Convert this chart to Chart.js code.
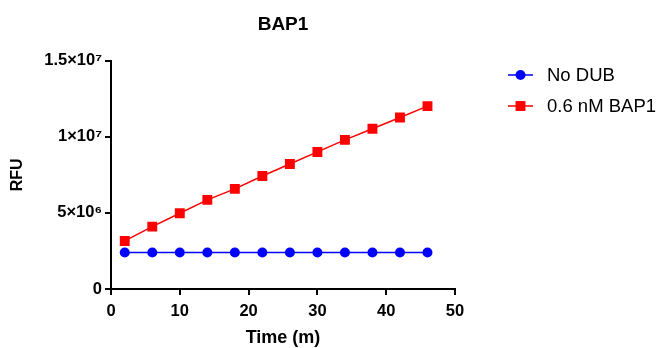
<!DOCTYPE html>
<html>
<head>
<meta charset="utf-8">
<script src="https://cdn.jsdelivr.net/npm/chart.js@4"></script>
<style>
  html, body { margin: 0; padding: 0; background: #fff; }
  canvas { display: block; }
</style>
</head>
<body>
<canvas id="bapChart" width="660" height="348"></canvas>
<script>
// time points (minutes)
const times = [2, 6, 10, 14, 18, 22, 26, 30, 34, 38, 42, 46];
// RFU readings
const noDub = [2.4e6, 2.4e6, 2.4e6, 2.4e6, 2.4e6, 2.4e6, 2.4e6, 2.4e6, 2.4e6, 2.4e6, 2.4e6, 2.4e6];
const bap1 = [3.16e6, 4.1e6, 4.98e6, 5.86e6, 6.58e6, 7.43e6, 8.22e6, 9.01e6, 9.8e6, 10.53e6, 11.27e6, 12.02e6];
const seriesNames = ['No DUB', '0.6 nM BAP1'];
const yTickValues = [0, 5e6, 1e7, 1.5e7];
const yTickLabels = ['0', '5×10⁶', '1×10⁷', '1.5×10⁷'];
const xTickValues = [0, 10, 20, 30, 40, 50];

const fontFamily = '"Liberation Sans", Arial, sans-serif';

// legend drawn as line + marker + label, like the original
const sideLegend = {
    id: 'sideLegend',
    afterDraw(chart) {
        const ctx = chart.ctx;
        const x0 = 508, x1 = 533, textX = 547;
        const rows = [75, 106];
        chart.data.datasets.forEach((ds, i) => {
            const y = rows[i];
            const cx = (x0 + x1) / 2;
            ctx.save();
            ctx.strokeStyle = ds.borderColor;
            ctx.lineWidth = 1.5;
            ctx.beginPath();
            ctx.moveTo(x0, y);
            ctx.lineTo(x1, y);
            ctx.stroke();
            ctx.fillStyle = ds.backgroundColor;
            ctx.beginPath();
            if (ds.pointStyle === 'circle') {
                ctx.arc(cx, y, ds.pointRadius, 0, Math.PI * 2);
            } else {
                const s = ds.pointRadius * Math.SQRT1_2;
                ctx.rect(cx - s, y - s, 2 * s, 2 * s);
            }
            ctx.fill();
            ctx.fillStyle = '#000';
            ctx.font = '18.5px ' + fontFamily;
            ctx.textBaseline = 'middle';
            ctx.fillText(seriesNames[i], textX, y + 1);
            ctx.restore();
        });
    }
};

const ctx = document.getElementById('bapChart').getContext('2d');
new Chart(ctx, {
    type: 'line',
    data: {
        datasets: [
            {
                label: seriesNames[0],
                data: times.map((t, i) => ({ x: t, y: noDub[i] })),
                borderColor: '#0000ff',
                backgroundColor: '#0000ff',
                borderWidth: 1.5,
                pointStyle: 'circle',
                pointRadius: 5,
                pointBorderWidth: 0
            },
            {
                label: seriesNames[1],
                data: times.map((t, i) => ({ x: t, y: bap1[i] })),
                borderColor: '#ff0000',
                backgroundColor: '#ff0000',
                borderWidth: 1.5,
                pointStyle: 'rect',
                pointRadius: 7,
                pointBorderWidth: 0
            }
        ]
    },
    options: {
        responsive: false,
        animation: false,
        layout: {
            padding: { left: 0, right: 205, top: 0, bottom: 0 }
        },
        plugins: {
            legend: { display: false },
            tooltip: { enabled: false },
            title: {
                display: true,
                fullSize: false,
                text: 'BAP1',
                color: '#000',
                font: { family: fontFamily, size: 19, weight: 'bold' },
                padding: { top: 13, bottom: 25 }
            }
        },
        scales: {
            x: {
                type: 'linear',
                min: 0,
                max: 50,
                afterFit(scale) { scale.height = 59; },
                afterBuildTicks(scale) { scale.ticks = xTickValues.map(v => ({ value: v })); },
                border: { color: '#000', width: 2 },
                grid: { drawOnChartArea: false, drawTicks: true, tickLength: 6, color: '#000', lineWidth: 2 },
                ticks: {
                    color: '#000',
                    padding: 7,
                    font: { family: fontFamily, size: 16.5, weight: 'bold' }
                },
                title: {
                    display: true,
                    text: 'Time (m)',
                    color: '#000',
                    font: { family: fontFamily, size: 18, weight: 'bold' },
                    padding: { top: 3, bottom: -1 }
                }
            },
            y: {
                min: 0,
                max: 1.5e7,
                afterFit(scale) { scale.width = 111; },
                afterBuildTicks(scale) { scale.ticks = yTickValues.map(v => ({ value: v })); },
                border: { color: '#000', width: 2 },
                grid: { drawOnChartArea: false, drawTicks: true, tickLength: 6, color: '#000', lineWidth: 2 },
                ticks: {
                    color: '#000',
                    padding: 3,
                    font: { family: fontFamily, size: 16.5, weight: 'bold' },
                    callback: (v) => yTickLabels[yTickValues.indexOf(v)]
                },
                title: {
                    display: true,
                    text: 'RFU',
                    color: '#000',
                    font: { family: fontFamily, size: 16, weight: 'bold' },
                    padding: { top: 8 }
                }
            }
        }
    },
    plugins: [sideLegend]
});
</script>
</body>
</html>
